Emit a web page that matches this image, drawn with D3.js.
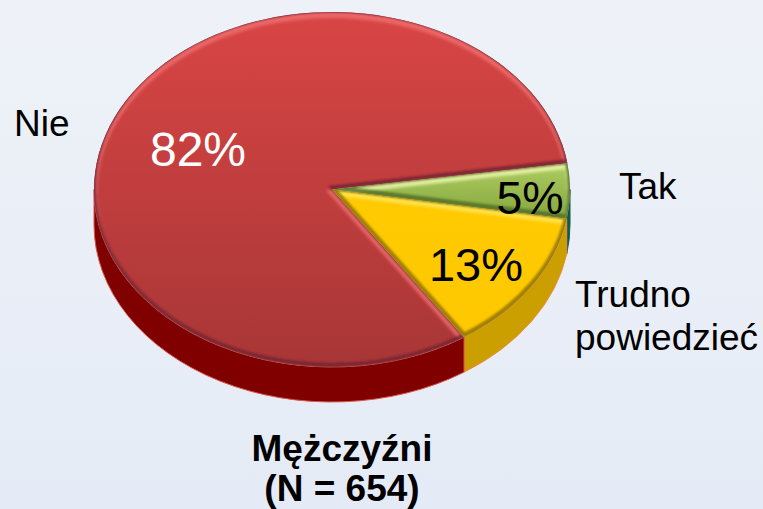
<!DOCTYPE html>
<html><head><meta charset="utf-8">
<script src="https://cdnjs.cloudflare.com/ajax/libs/d3/7.8.5/d3.min.js"></script>
<style>html,body{margin:0;padding:0;background:#e9eef7}svg{display:block}text{font-family:"Liberation Sans",Arial,sans-serif}</style>
</head><body><div id="c"></div>
<script>
const categories=["Tak","Trudno powiedzieć","Nie"];
const values=[5,13,82];
const valueLabels=["5%","13%","82%"];
const labelColors=["#000","#000","#fff"];
const W=763,H=509,cx=332,cy=189.5,rx=238,ry=177.5,depth=35,rot=81.5*Math.PI/180;
const svg=d3.select("#c").append("svg").attr("width",W).attr("height",H);
const defs=svg.append("defs");
const bg=defs.append("linearGradient").attr("id","bg").attr("x1",0).attr("x2",0).attr("y1",0).attr("y2",1);
bg.append("stop").attr("offset",0).attr("stop-color","#eef2f8");
bg.append("stop").attr("offset",1).attr("stop-color","#e5ebf6");
svg.append("rect").attr("width",W).attr("height",H).attr("fill","url(#bg)");
const tops=[["#b0cf62","#84a63e"],["#ffcc00","#ffc800"],["#d94545","#a83636"]];
const sides=["#0b5c4a","#cc9f00","#800000"];
const sideStroke=["#0b5c4a","#f08a3c","#d8574a"];
tops.forEach((t,i)=>{const g=defs.append("linearGradient").attr("id","t"+i).attr("gradientUnits","userSpaceOnUse")
  .attr("x1",0).attr("x2",0).attr("y1",cy-ry).attr("y2",cy+ry);
  if(i==0){g.attr("y1",cy-30).attr("y2",cy+30);}
  g.append("stop").attr("offset",0).attr("stop-color",t[0]);
  g.append("stop").attr("offset",1).attr("stop-color",t[1]);});
const blur=(id,s)=>defs.append("filter").attr("id",id).attr("x","-10%").attr("y","-10%").attr("width","120%").attr("height","120%")
  .append("feGaussianBlur").attr("stdDeviation",s);
blur("b2",1.6);blur("b1",1);
const pie=d3.pie().sort(null).startAngle(rot).endAngle(rot+2*Math.PI)(values);
const sx=d3.scaleLinear().domain([-1,1]).range([cx-rx,cx+rx]);
const sy=d3.scaleLinear().domain([-1,1]).range([cy-ry,cy+ry]);
const px=a=>sx(Math.sin(a)),py=a=>sy(-Math.cos(a));
function topPath(d){return `M${cx},${cy}L${px(d.startAngle)},${py(d.startAngle)}A${rx},${ry} 0 ${d.endAngle-d.startAngle>Math.PI?1:0} 1 ${px(d.endAngle)},${py(d.endAngle)}Z`;}
function sidePath(a0,a1){return `M${px(a0)},${py(a0)}A${rx},${ry} 0 0 1 ${px(a1)},${py(a1)}L${px(a1)},${py(a1)+depth}A${rx},${ry} 0 0 0 ${px(a0)},${py(a0)+depth}Z`;}
const gs=svg.append("g");
pie.forEach((d,i)=>{
  const a0=Math.max(d.startAngle,Math.PI/2),a1=Math.min(d.endAngle,3*Math.PI/2);
  if(a1<=a0)return;
  gs.append("path").attr("d",sidePath(a0,a1)).attr("fill",sides[i]).attr("stroke",sideStroke[i]).attr("stroke-width",1);
});
const gt=svg.append("g");
[2,0,1].forEach(i=>{const d=pie[i];
  const p=topPath(d);
  defs.append("clipPath").attr("id","cp"+i).append("path").attr("d",p);
  const g=gt.append("g").attr("clip-path",`url(#cp${i})`);
  g.append("path").attr("d",p).attr("fill",`url(#t${i})`);
  g.append("path").attr("d",p).attr("fill","none").attr("stroke",["#eef7b0","#ffe85a","#ee6c6c"][i]).attr("stroke-width",i==2?6:5).attr("filter","url(#b2)")
    .attr("transform","translate(0,3)").attr("stroke-opacity",.85);
  g.append("path").attr("d",p).attr("fill","none").attr("stroke",["#4e6a20","#8a6a00","#6b2230"][i]).attr("stroke-width",i==2?4:5).attr("filter","url(#b1)")
    .attr("transform","translate(0,-2)").attr("stroke-opacity",.8);
  g.append("path").attr("d",p).attr("fill","none").attr("stroke",i==2?"#7d3a4a":"#6a5a20").attr("stroke-width",1).attr("stroke-opacity",i==2?.7:.3);
});
const lx=[530,476,198],ly=[213.5,281,166],ls=[46.5,47,48];
pie.forEach((d,i)=>svg.append("text").attr("x",lx[i]).attr("y",ly[i]).attr("text-anchor","middle").attr("font-size",ls[i]).attr("fill",labelColors[i]).text(valueLabels[i]));
const t=(s,x,y,o={})=>svg.append("text").attr("x",x).attr("y",y).attr("font-size",o.size||37).attr("font-weight",o.w||"normal").attr("text-anchor",o.a||"start").attr("fill","#000").text(s);
t(categories[2],14,136);
t(categories[0],619,199);
t("Trudno",575,307);
t("powiedzieć",575,350);
t("Mężczyźni",342,461,{a:"middle",w:"bold"});
t("(N = 654)",342,501,{a:"middle",w:"bold"});
</script></body></html>
